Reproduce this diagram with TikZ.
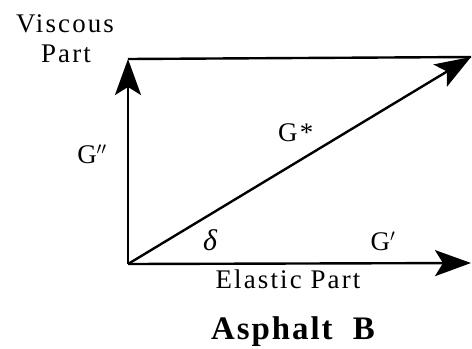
\documentclass[tikz,border=0pt]{standalone}
\usepackage{fontspec}
\setmainfont{Liberation Serif}
\newfontfamily\lblfont[LetterSpace=8]{Liberation Serif}
\newfontfamily\ttlfont[LetterSpace=6,WordSpace=2]{Liberation Serif}
\usetikzlibrary{arrows.meta}
\begin{document}
\begin{tikzpicture}[x=1bp,y=-1bp,
  vec/.style={line width=2.4bp,-{Stealth[length=36bp,width=26bp,inset=8bp]}},
  plain/.style={line width=2.4bp},
  lbl/.style={font=\fontsize{27}{29}\selectfont\lblfont,inner sep=0pt,anchor=base},
  ttl/.style={font=\fontsize{33}{35}\selectfont\ttlfont\bfseries,inner sep=0pt,anchor=base}]
\useasboundingbox (0,0) rectangle (472,348);
\coordinate (O) at (128,264);
\coordinate (V) at (128,59);
\coordinate (E) at (471,263);
\coordinate (D) at (471,57);
\draw[plain] (V) -- (D);
\draw[vec] (O) -- (V);
\draw[vec] (O) -- (E);
\draw[vec] (O) -- (D);
\node[lbl] (visc) at (65,32) {Viscous};
\node[lbl] (part) at (66,62) {Part};
\node[lbl] (gpp) at (92,163) {G$''$};
\node[lbl,anchor=base west] (gs) at (278,141) {G*};
\node[lbl,font=\fontsize{30}{32}\selectfont\itshape] (delta) at (210,250) {δ};
\node[lbl] (gp) at (383,250) {G$'$};
\node[lbl] (ela) at (288,288) {Elastic Part};
\node[ttl] (asp) at (293,339) {Asphalt B};
\end{tikzpicture}
\end{document}
